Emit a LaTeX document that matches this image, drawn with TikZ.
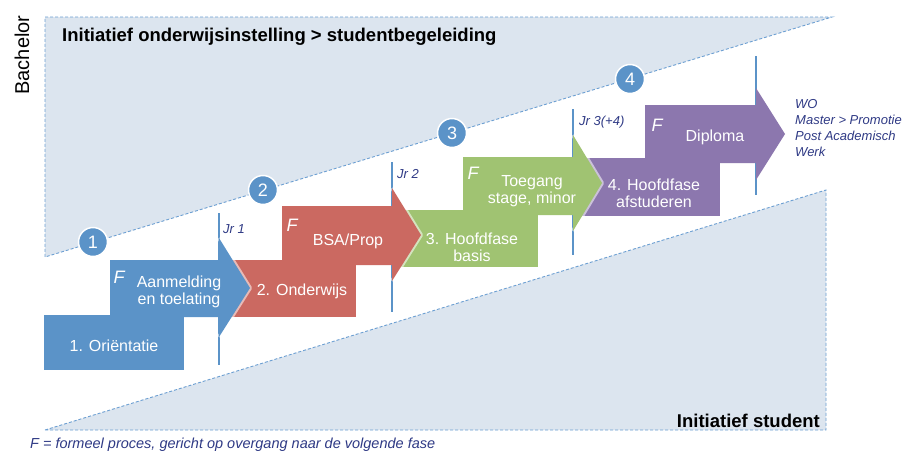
\documentclass[tikz,border=0pt]{standalone}
\usepackage{fontspec}
\setmainfont{Liberation Sans}
\definecolor{blueA}{HTML}{5B93C8}
\definecolor{redA}{HTML}{CB6961}
\definecolor{greenA}{HTML}{A0C372}
\definecolor{purpleA}{HTML}{8C77AE}
\definecolor{triFill}{HTML}{DCE5EF}
\definecolor{dashC}{HTML}{6C9FD2}
\definecolor{navy}{HTML}{2F3A85}
\begin{document}
\begin{tikzpicture}[x=1pt,y=-1pt,
  tri/.style={fill=triFill, draw=dashC, densely dashed, line width=0.9pt},
  num/.style={circle, fill=blueA, draw=white, line width=1.5pt, minimum size=29pt, inner sep=0pt, text=white, font=\fontsize{18}{18}\selectfont},
  yr/.style={draw=blueA, line width=1.4pt},
  lbl/.style={text=white, align=center, font=\fontsize{16}{17}\selectfont, inner sep=0pt},
  fmark/.style={text=white, font=\fontsize{18}{18}\selectfont\itshape, inner sep=0pt},
  jr/.style={text=navy, font=\fontsize{13}{13}\selectfont\itshape, anchor=west, inner sep=0pt},
  glow/.style={draw=white, opacity=0.55, line width=4pt, line join=round},
]
\useasboundingbox (0,0) rectangle (904,453);
\fill[white] (0,0) rectangle (904,453);

% triangles
\draw[tri] (45,17) -- (832,17) -- (45,257) -- cycle;
\draw[tri] (45,430) -- (826,190) -- (826,430) -- cycle;

% labels of triangles
\node[anchor=west, inner sep=0pt, font=\fontsize{18.5}{18.5}\selectfont\bfseries] (tTop) at (62,37) {Initiatief onderwijsinstelling > studentbegeleiding};
\node[anchor=east, inner sep=0pt, font=\fontsize{18.5}{18.5}\selectfont\bfseries] (tBot) at (820,421) {Initiatief student};
\node[rotate=90, inner sep=0pt, font=\fontsize{20}{20}\selectfont] (bach) at (22,55) {Bachelor};

% circles
\node[num] (c1) at (93,242) {1};
\node[num] (c2) at (263,190) {2};
\node[num] (c3) at (452,133) {3};
\node[num] (c4) at (630,79) {4};

% year lines
\coordinate (j1t) at (219,213); \coordinate (j1b) at (219,365);
\coordinate (j2t) at (392,162); \coordinate (j2b) at (392,312);
\coordinate (j3t) at (573,109); \coordinate (j3b) at (573,255);
\coordinate (j4t) at (756,56);  \coordinate (j4b) at (756,195);
\draw[yr] (j1t) -- (j1b);
\draw[yr] (j2t) -- (j2b);
\draw[yr] (j3t) -- (j3b);
\draw[yr] (j4t) -- (j4b);

\node[jr] (jr1) at (223,229) {Jr 1};
\node[jr] (jr2) at (397,174) {Jr 2};
\node[jr] (jr3) at (579,122) {Jr 3(+4)};

% phase boxes
\fill[blueA] (44,315) rectangle (184,370);
\fill[redA] (228,260) rectangle (356,317);
\fill[greenA] (400,210) rectangle (538,267);
\fill[purpleA] (582,158) rectangle (720,216);

% arrows
\draw[glow] (219,238) -- (250,288) -- (219,337);
\fill[blueA] (110,260) -- (219,260) -- (219,238) -- (250,288) -- (219,337) -- (219,317) -- (110,317) -- cycle;

\draw[glow] (392,188) -- (421,235) -- (392,281);
\fill[redA] (282,206) -- (392,206) -- (392,188) -- (421,235) -- (392,281) -- (392,265) -- (282,265) -- cycle;

\draw[glow] (573,135) -- (602,183) -- (573,231);
\fill[greenA] (463,157) -- (573,157) -- (573,135) -- (602,183) -- (573,231) -- (573,215) -- (463,215) -- cycle;

\fill[purpleA] (645,105) -- (756,105) -- (756,88) -- (785,134) -- (756,180) -- (756,163) -- (645,163) -- cycle;

% texts
\node[lbl] (p1) at (114,346) {1. Oriëntatie};
\node[lbl] (a1) at (179,292) {Aanmelding\\en toelating};
\node[fmark] (f1) at (119,277) {F};
\node[lbl] (p2) at (302,291) {2. Onderwijs};
\node[lbl] (a2) at (348,241) {BSA/Prop};
\node[fmark] (f2) at (292,225) {F};
\node[lbl] (p3) at (472,247) {3. Hoofdfase\\basis};
\node[lbl] (a3) at (532,191) {Toegang\\stage, minor};
\node[fmark] (f3) at (473,173) {F};
\node[lbl] (p4) at (654,193) {4. Hoofdfase\\afstuderen};
\node[lbl] (a4) at (715,137) {Diploma};
\node[fmark] (f4) at (657,125) {F};

\node[anchor=west, align=left, text=navy, inner sep=0pt, font=\fontsize{13}{16}\selectfont\itshape] (out) at (795,128) {WO\\Master > Promotie\\Post Academisch\\Werk};

\node[anchor=west, text=navy, inner sep=0pt, font=\fontsize{14.5}{14.5}\selectfont\itshape] (foot) at (30,445) {F = formeel proces, gericht op overgang naar de volgende fase};
\end{tikzpicture}
\end{document}
